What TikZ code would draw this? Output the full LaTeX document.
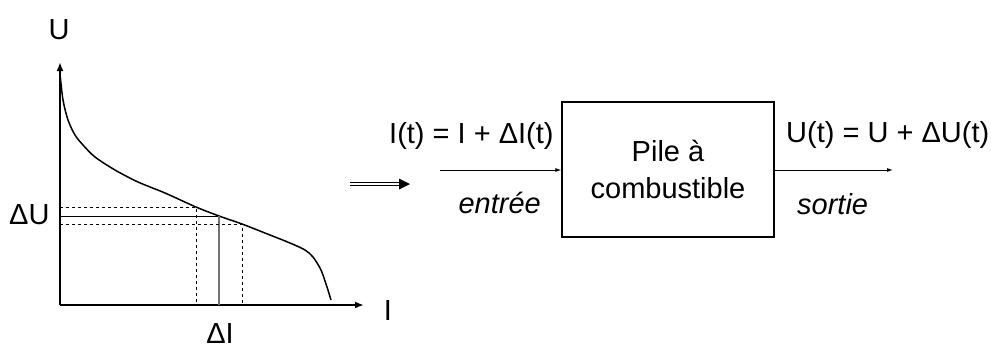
\documentclass[tikz,border=0pt]{standalone}
\usepackage{fontspec}
\setmainfont{Liberation Sans}
\usetikzlibrary{arrows.meta}
\begin{document}
\begin{tikzpicture}[x=1pt,y=-1pt,
  lbl/.style={font=\fontsize{29}{34}\selectfont, inner sep=0pt},
  ilbl/.style={font=\fontsize{29}{34}\selectfont\itshape, inner sep=0pt},
  axis/.style={line width=2pt, -{Latex[length=9pt,width=7pt]}},
  thinarrow/.style={line width=1pt, -{Latex[length=6pt,width=4pt]}},
  guide/.style={line width=1pt, dash pattern=on 3pt off 3pt},
  blockbox/.style={draw, line width=1.2pt, minimum width=212pt, minimum height=135pt,
     align=center, font=\fontsize{29}{37}\selectfont, inner sep=0pt}]
\useasboundingbox (0,0) rectangle (991,349);
% axes
\coordinate (O) at (60,305);
\coordinate (Ytop) at (60,62);
\coordinate (Xend) at (364,305);
\draw[axis] (O) -- (Ytop);
\draw[axis] (O) -- (Xend);
% curve
\draw[line width=1.5pt] plot[smooth, tension=0.5] coordinates {(60,74) (63,100) (68,120) (75,135) (83,145) (95,157) (115,170) (138,182) (165,193) (196,207) (219,216) (242,224) (270,235) (290,243) (305,250) (313,257) (321,270) (327,287) (331,300)};
% guides
\coordinate (p1) at (196,207);
\coordinate (p2) at (219,216);
\coordinate (p3) at (242,224);
\draw[guide] (60,207) -- (p1) -- (196,305);
\draw[line width=1pt] (60,216) -- (p2);
\draw[line width=1.3pt, black!55] (p2) -- (219,305);
\draw[guide] (60,224) -- (p3) -- (242,305);
% axis labels
\node[lbl, anchor=base] (lU) at (59,39) {U};
\node[lbl, anchor=base west] (ldU) at (9,224) {ΔU};
\node[lbl, anchor=base] (lI) at (388,320) {I};
\node[lbl, anchor=base] (ldI) at (220,343) {ΔI};
% double arrow
\coordinate (da) at (350,184);
\coordinate (db) at (399,184);
\coordinate (dtip) at (410,184);
\draw[line width=1pt] ([yshift=-1.6pt]da) -- ([yshift=-1.6pt]db);
\draw[line width=1pt] ([yshift=1.6pt]da) -- ([yshift=1.6pt]db);
\fill (dtip) -- ([yshift=-5.5pt]db) -- ([yshift=5.5pt]db) -- cycle;
% block
\node[blockbox] (pile) at (668,169.5) {Pile à\\combustible};
\coordinate (in) at (440,170);
\coordinate (out) at (893,170);
\draw[thinarrow] (in) -- (pile.west |- in);
\draw[thinarrow] (pile.east |- out) -- (out);
\node[lbl, anchor=base west] (lin) at (389,143) {I(t) = I + ΔI(t)};
\node[ilbl, anchor=base east] (ent) at (541,213) {entrée};
\node[lbl, anchor=base west] (lout) at (786,142) {U(t) = U + ΔU(t)};
\node[ilbl, anchor=base west] (sor) at (797,214) {sortie};
\end{tikzpicture}
\end{document}
